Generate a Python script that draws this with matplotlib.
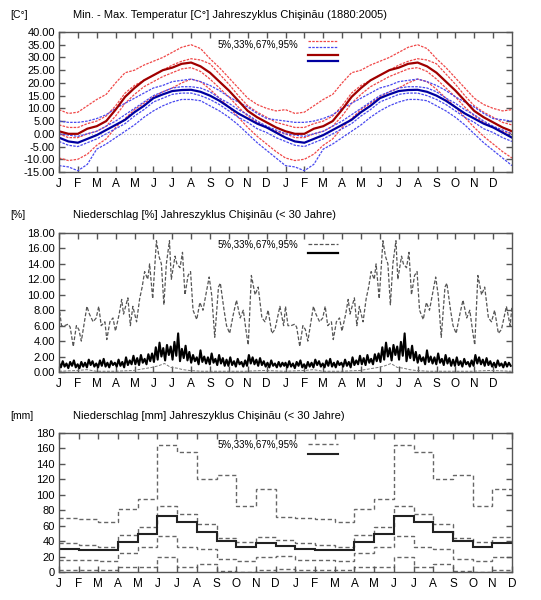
import matplotlib
matplotlib.use("Agg")
import matplotlib.pyplot as plt
import numpy as np

plt.rcParams['font.family'] = ['Liberation Sans', 'DejaVu Sans']

months = ['J', 'F', 'M', 'A', 'M', 'J', 'J', 'A', 'S', 'O', 'N', 'D']

# --- Temperatur, Halbmonatswerte (Jan 1, Jan 15, Feb 1, ...)
tmax_95 = [9.5, 8.0, 8.5, 11.0, 13.5, 15.5, 20.0, 24.0, 25.0, 27.0, 28.5, 30.0,
           32.0, 34.0, 35.0, 33.5, 29.5, 26.0, 22.0, 18.0, 14.0, 11.5, 10.0, 9.0]
tmax_67 = [3.5, 2.5, 2.5, 4.0, 5.0, 7.0, 11.0, 16.0, 19.0, 21.0, 23.0, 25.0,
           27.0, 28.5, 29.5, 29.0, 27.5, 23.5, 19.5, 15.0, 11.0, 8.5, 6.5, 4.5]
tmax_50 = [1.0, 0.0, 0.0, 2.0, 3.0, 5.0, 9.5, 14.5, 18.0, 21.0, 23.0, 25.0,
           26.0, 27.5, 28.0, 26.5, 24.0, 20.5, 17.0, 13.0, 9.0, 6.5, 4.5, 2.5]
tmax_33 = [0.0, -1.5, -1.5, 0.0, 1.0, 3.0, 7.0, 12.0, 15.5, 18.5, 20.5, 22.5,
           24.0, 25.5, 26.0, 24.5, 21.5, 18.0, 14.5, 10.5, 7.0, 4.5, 2.5, 1.0]
tmax_5 = [-9.5, -10.5, -10.0, -8.0, -4.5, -2.0, 2.5, 6.0, 9.5, 12.0, 14.5, 16.5,
          18.0, 20.0, 21.5, 20.5, 17.5, 14.0, 10.5, 6.5, 2.5, -1.0, -4.0, -7.0]

tmin_95 = [5.0, 4.5, 4.5, 5.0, 6.0, 7.5, 10.0, 12.0, 14.0, 16.0, 18.0, 19.0,
           20.5, 21.0, 21.5, 20.5, 19.0, 17.0, 14.5, 12.5, 10.5, 8.0, 6.0, 5.5]
tmin_67 = [0.0, -0.5, -1.0, 0.0, 1.0, 3.0, 5.0, 7.5, 10.0, 12.5, 15.0, 16.5,
           18.0, 18.5, 18.5, 18.0, 16.5, 14.0, 12.0, 9.5, 7.5, 5.0, 3.0, 1.5]
tmin_50 = [-1.5, -3.0, -3.5, -2.0, -0.5, 1.5, 3.5, 5.5, 8.5, 11.0, 14.0, 15.5,
           16.8, 17.2, 17.3, 16.5, 15.0, 13.0, 10.5, 8.0, 6.0, 4.0, 2.5, 0.5]
tmin_33 = [-3.0, -4.5, -5.0, -3.5, -2.0, 0.0, 2.0, 4.0, 7.0, 9.5, 12.5, 14.0,
           15.5, 16.0, 16.0, 15.0, 13.5, 11.5, 9.0, 6.5, 4.5, 2.0, 0.5, -1.5]
tmin_5 = [-12.5, -13.0, -14.5, -12.0, -6.0, -4.0, -1.5, 1.0, 3.5, 6.5, 9.0, 11.0,
          12.5, 13.5, 13.5, 13.0, 11.0, 9.0, 6.5, 3.5, 0.0, -3.5, -6.5, -9.5]

# --- Niederschlag [%], obere Quantillinie (Tag im Jahr, Wert)
p95_days = [0, 4, 9, 15, 18, 23, 28, 32, 36, 40, 45, 49, 55, 60, 64, 68, 74, 77,
            82, 87, 91, 97, 101, 104, 111, 115, 119, 125, 130, 134, 138, 143,
            146, 151, 157, 161, 165, 169, 173, 178, 181, 187, 190, 195, 199,
            203, 208, 212, 216, 222, 227, 232, 242, 246, 251, 257, 260, 266,
            270, 275, 281, 286, 292, 297, 302, 305, 310, 316, 321, 327, 332,
            337, 343, 348, 356, 362]
p95_vals = [8.5, 6.0, 6.0, 6.2, 5.8, 3.3, 6.0, 5.5, 4.0, 6.0, 8.5, 7.5, 6.5,
            7.0, 8.5, 6.0, 6.5, 4.2, 6.5, 7.0, 5.3, 7.5, 9.4, 7.5, 9.6, 6.0,
            8.5, 6.5, 9.5, 11.0, 13.0, 12.0, 14.0, 9.5, 17.0, 15.0, 14.0, 8.7,
            14.0, 17.0, 12.0, 15.0, 14.0, 13.5, 15.5, 10.0, 12.5, 13.0, 8.0,
            6.8, 9.0, 8.0, 12.3, 10.0, 4.5, 11.0, 11.5, 8.0, 6.0, 5.0, 7.5,
            9.3, 7.0, 8.0, 5.0, 3.5, 12.5, 10.0, 11.0, 7.0, 6.5, 8.0, 5.0,
            5.5, 8.5, 6.0]

# Median, alle 3 Tage
p50_vals = [1.2, 0.6, 1.4, 0.7, 1.1, 0.5, 1.3, 0.8, 1.5, 0.6,
            1.0, 0.5, 1.3, 0.7, 1.2, 0.6, 1.6, 0.9, 1.4, 0.7,
            1.1, 0.6, 1.5, 0.8, 1.7, 0.7, 1.2, 0.6, 1.4, 0.9,
            1.2, 0.7, 1.6, 0.8, 1.3, 0.6, 1.9, 0.9, 1.5, 1.0,
            2.1, 1.0, 1.8, 0.9, 2.2, 1.2, 1.7, 1.0, 2.3, 1.4,
            2.4, 1.3, 3.2, 1.6, 3.8, 2.0, 3.1, 1.5, 3.5, 2.2,
            3.3, 1.6, 3.9, 2.1, 5.0, 1.4, 3.0, 1.8, 3.4, 1.5,
            2.6, 1.2, 2.2, 1.4, 1.9, 1.0, 2.8, 1.3, 2.0, 1.1,
            1.9, 1.0, 2.4, 1.2, 1.7, 0.9, 2.2, 1.1, 1.8, 0.8,
            1.6, 0.8, 1.9, 0.9, 1.4, 0.7, 1.7, 1.0, 1.3, 0.7,
            1.5, 0.8, 2.2, 1.1, 1.9, 1.0, 1.6, 0.8, 1.8, 0.9,
            1.4, 0.7, 1.2, 0.6, 1.5, 0.8, 1.1, 0.6, 1.3, 0.7, 1.2, 0.8]

p67_days = [0, 30, 45, 60, 90, 120, 150, 160, 170, 180, 190, 200, 210, 230, 300, 330, 364]
p67_vals = [0.1, 0.2, 0.3, 0.1, 0.1, 0.2, 0.6, 0.8, 1.1, 0.6, 0.5, 0.3, 0.2, 0.1, 0.1, 0.2, 0.1]

# --- Niederschlag [mm], Monatswerte
mm_95 = [70, 68, 65, 82, 95, 164, 156, 121, 125, 85, 108, 71]
mm_67 = [38, 35, 32, 48, 58, 85, 75, 62, 44, 39, 45, 42]
mm_50 = [30, 29, 28, 39, 49, 73, 65, 52, 40, 33, 38, 34]
mm_33 = [16, 15, 14, 25, 33, 46, 33, 30, 17, 14, 19, 21]
mm_5 = [3, 2.5, 2.5, 7, 7, 20, 7, 10, 1.5, 0.5, 2.5, 3.5]

fig = plt.figure(figsize=(5.41, 6.0), dpi=100)
W, H = 541.0, 600.0


def add_axes(top, bottom):
    return fig.add_axes([59 / W, 1 - bottom / H, (512 - 59) / W, (bottom - top) / H])


def style(ax):
    for s in ax.spines.values():
        s.set_color('#555555')
        s.set_linewidth(1.0)
    ax.tick_params(direction='in', length=4, width=1, color='#555555',
                   top=True, right=True, labelsize=8, pad=3)
    ax.tick_params(axis='x', pad=4, labelsize=8.5)


def legend(ax, rows, text_y):
    ax.text(0.528, text_y, '5%,33%,67%,95%', transform=ax.transAxes,
            ha='right', va='center', fontsize=7)
    for y, kw in rows:
        ax.plot([0.55, 0.616], [y, y], transform=ax.transAxes, **kw)


def both_years(v):
    v = list(v)
    return np.array(v + v + v[:1])


red_d = dict(color='#f04848', lw=0.9, ls=(0, (2, 1)))
blue_d = dict(color='#4848f0', lw=0.9, ls=(0, (2, 1)))
red_s = dict(color='#a00000', lw=1.6)
blue_s = dict(color='#0000a0', lw=1.6)

# ---------- Panel 1
ax1 = add_axes(32, 172)
t_half = np.arange(49) * 0.5
ax1.axhline(0, color='#bbbbbb', lw=0.8, ls=':')
for v in (tmax_95, tmax_67, tmax_33, tmax_5):
    ax1.plot(t_half, both_years(v), **red_d)
for v in (tmin_95, tmin_67, tmin_33, tmin_5):
    ax1.plot(t_half, both_years(v), **blue_d)
ax1.plot(t_half, both_years(tmax_50), **red_s)
ax1.plot(t_half, both_years(tmin_50), **blue_s)
ax1.set_ylim(-15, 40)
ax1.set_yticks(np.arange(-15, 41, 5))
ax1.set_yticklabels(['%.2f' % v for v in np.arange(-15, 41, 5)])
ax1.set_xlim(0, 24)
ax1.set_xticks(range(24))
ax1.set_xticklabels(months * 2)
style(ax1)
legend(ax1, [(0.938, red_d), (0.895, blue_d), (0.836, red_s), (0.795, blue_s)], 0.914)

# ---------- Panel 2
ax2 = add_axes(233, 372)
x95 = np.array(p95_days + [365]) / 365 * 12
y95 = np.array(p95_vals + p95_vals[:1])
ax2.plot(np.concatenate([x95, x95 + 12]), np.concatenate([y95, y95]),
         color='#555555', lw=0.9, ls=(0, (3, 1.5)))
x67 = np.array(p67_days) / 365 * 12
ax2.plot(np.concatenate([x67, x67 + 12]), np.concatenate([p67_vals, p67_vals]),
         color='#777777', lw=0.7, ls=(0, (3, 1.5)))
x50 = np.arange(len(p50_vals)) * 3 / 365 * 12
ax2.plot(np.concatenate([x50, x50 + 12]), np.concatenate([p50_vals, p50_vals]),
         color='black', lw=1.5)
ax2.set_ylim(0, 18)
ax2.set_yticks(np.arange(0, 19, 2))
ax2.set_yticklabels(['%.2f' % v for v in np.arange(0, 19, 2)])
ax2.set_xlim(0, 24)
ax2.set_xticks(range(24))
ax2.set_xticklabels(months * 2)
style(ax2)
legend(ax2, [(0.921, dict(color='#555555', lw=0.9, ls=(0, (3, 1.5)))),
             (0.854, dict(color='black', lw=1.6))], 0.914)

# ---------- Panel 3
ax3 = add_axes(433, 572)
edges = np.arange(24)
gray_d = dict(color='#666666', lw=1.0, ls=(0, (3, 2)))
for v in (mm_95, mm_67, mm_33, mm_5):
    ax3.stairs((v + v)[:23], edges, baseline=None, **gray_d)
ax3.stairs((mm_50 + mm_50)[:23], edges, baseline=None, color='#222222', lw=1.5)
ax3.set_ylim(0, 180)
ax3.set_yticks(np.arange(0, 181, 20))
ax3.set_xlim(0, 23)
ax3.set_xticks(range(24))
ax3.set_xticklabels(months * 2)
style(ax3)
legend(ax3, [(0.919, gray_d), (0.849, dict(color='#222222', lw=1.5))], 0.914)

# ---------- Titel
fig.text(10 / W, 1 - 15 / H, '[C°]', fontsize=7.5, va='center')
fig.text(73 / W, 1 - 15 / H, 'Min. - Max. Temperatur [C°] Jahreszyklus Chişinău (1880:2005)',
         fontsize=8, va='center')
fig.text(10 / W, 1 - 215 / H, '[%]', fontsize=7.5, va='center')
fig.text(73 / W, 1 - 215 / H, 'Niederschlag [%] Jahreszyklus Chişinău (< 30 Jahre)',
         fontsize=8, va='center')
fig.text(10 / W, 1 - 416 / H, '[mm]', fontsize=7.5, va='center')
fig.text(73 / W, 1 - 416 / H, 'Niederschlag [mm] Jahreszyklus Chişinău (< 30 Jahre)',
         fontsize=8, va='center')

fig.savefig('out.png', dpi=100)
